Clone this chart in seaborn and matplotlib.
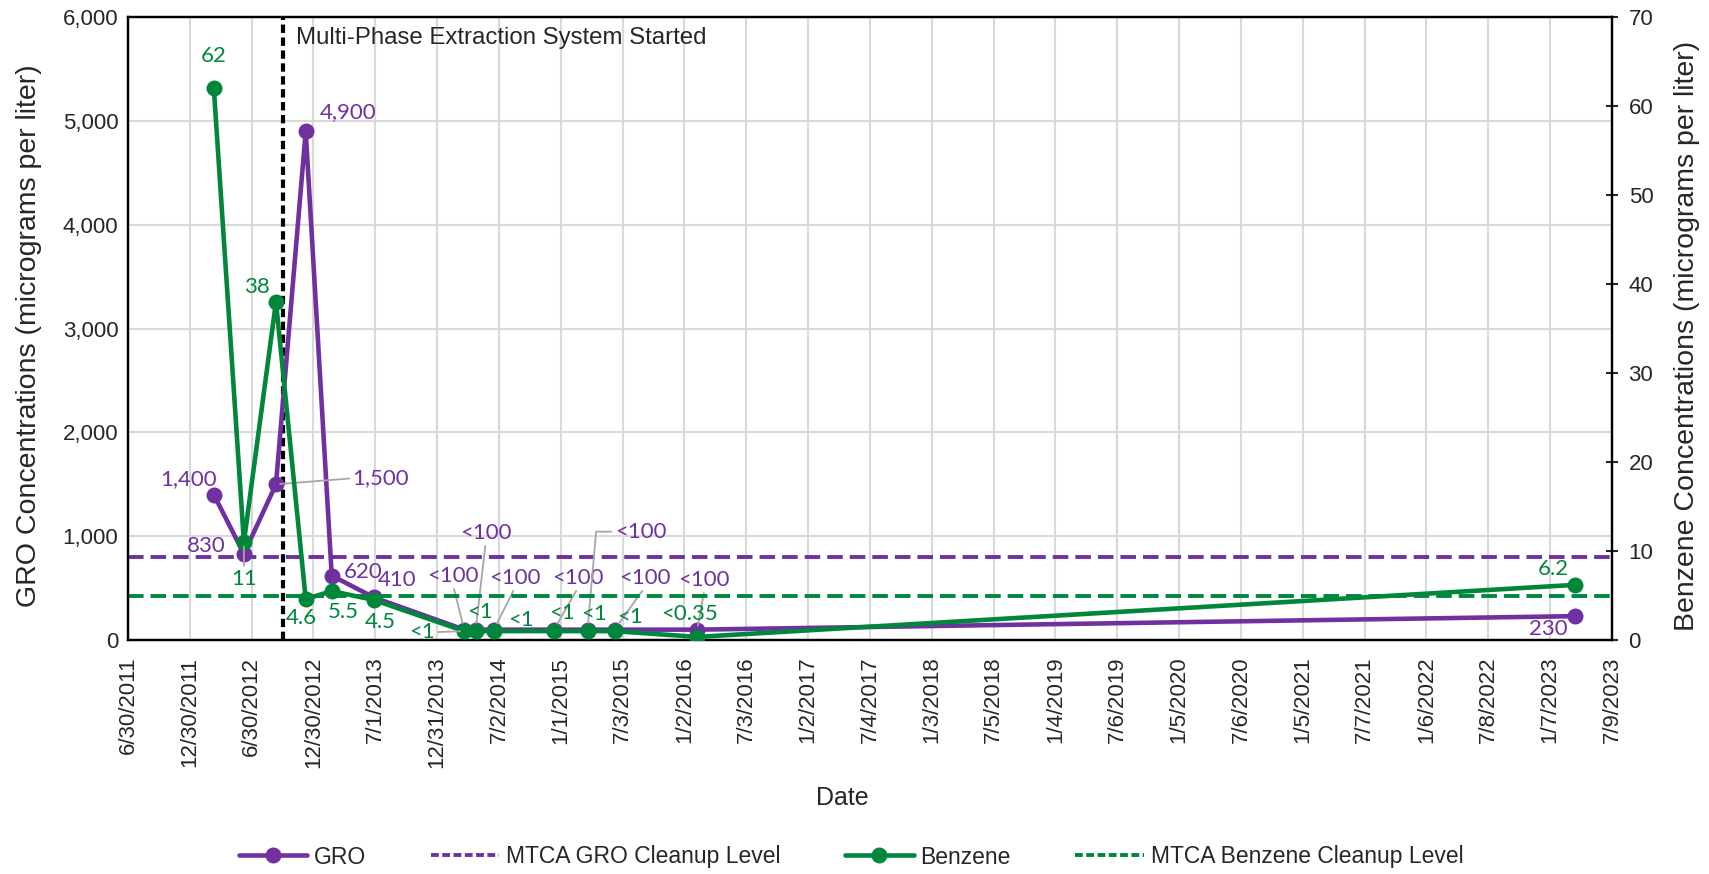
import pandas as pd
import matplotlib
matplotlib.use('Agg')
import matplotlib.pyplot as plt
import matplotlib.dates as mdates
from matplotlib.lines import Line2D
import seaborn as sns

# sampling data
sample_dates = ['2012-03-10', '2012-06-07', '2012-09-10', '2012-12-07', '2013-02-22',
                '2013-06-27', '2014-03-21', '2014-04-24', '2014-06-17', '2014-12-12',
                '2015-03-21', '2015-06-09', '2016-02-09', '2023-03-22']
gro = [1400, 830, 1500, 4900, 620, 410, 100, 100, 100, 100, 100, 100, 100, 230]
gro_labels = ['1,400', '830', '1,500', '4,900', '620', '410', '<100', '<100', '<100',
              '<100', '<100', '<100', '<100', '230']
benzene = [62, 11, 38, 4.6, 5.5, 4.5, 1, 1, 1, 1, 1, 1, 0.35, 6.2]
benzene_labels = ['62', '11', '38', '4.6', '5.5', '4.5', '<1', '<1', '<1', '<1', '<1', '<1',
                  '<0.35', '6.2']
gro_cleanup = 800
benzene_cleanup = 5
mpe_start = '2012-10-01'
x_start, x_end = '2011-06-30', '2023-07-09'

purple = '#7030A0'
green = '#00873C'
grey = '#A6A6A6'

df = pd.DataFrame({'date': pd.to_datetime(sample_dates), 'gro': gro, 'benzene': benzene})

sns.set_style('white')
plt.rcParams['font.family'] = ['Liberation Sans', 'DejaVu Sans']

fig = plt.figure(figsize=(17.09, 8.74), dpi=100)
ax = fig.add_axes([0.0749, 0.2677, 0.8683, 0.7128])
ax2 = ax.twinx()

# x axis: excel style, major unit 183 days
ticks = pd.date_range(x_start, periods=25, freq='183D')
ax.set_xlim(mdates.date2num(pd.Timestamp(x_start)), mdates.date2num(pd.Timestamp(x_end)))
ax.set_xticks(mdates.date2num(ticks))
ax.set_xticklabels([f'{t.month}/{t.day}/{t.year}' for t in ticks], rotation=90, fontsize=16)
ax.set_ylim(0, 6000)
ax.set_yticks(range(0, 6001, 1000))
ax.set_yticklabels([f'{v:,}' for v in range(0, 6001, 1000)], fontsize=16)
ax2.set_ylim(0, 70)
ax2.set_yticks(range(0, 71, 10))
ax2.set_yticklabels([str(v) for v in range(0, 71, 10)], fontsize=16)

ax.grid(True, color='#D9D9D9', lw=1.5)
ax.set_axisbelow(True)
ax.tick_params(axis='x', length=0, pad=12)
ax.tick_params(axis='y', length=0, pad=7)
ax2.tick_params(axis='y', direction='inout', length=8, width=1.5, pad=8)
for a in (ax, ax2):
    for s in a.spines.values():
        s.set_color('black')
        s.set_linewidth(1.6)

# cleanup levels and MPE start line
ax.axhline(gro_cleanup, color=purple, lw=2.8, ls=(0, (4, 1.8)), zorder=2)
ax2.axhline(benzene_cleanup, color=green, lw=2.8, ls=(0, (4, 1.8)), zorder=2)
mpe_x = mdates.date2num(pd.Timestamp(mpe_start))
ax.axvline(mpe_x, color='black', lw=3, ls=(0, (2, 1.1)), zorder=3)
ax.annotate('Multi-Phase Extraction System Started', xy=(mpe_x, 1), xycoords=('data', 'axes fraction'),
            xytext=(13, -21), textcoords='offset pixels', ha='left', va='center', fontsize=17.3)

sns.lineplot(data=df, x='date', y='gro', ax=ax, color=purple, lw=3.3, marker='o',
             markersize=11.5, markeredgewidth=0, legend=False, zorder=4)
sns.lineplot(data=df, x='date', y='benzene', ax=ax2, color=green, lw=3.3, marker='o',
             markersize=11.5, markeredgewidth=0, legend=False, zorder=4)
ax.set_xlim(mdates.date2num(pd.Timestamp(x_start)), mdates.date2num(pd.Timestamp(x_end)))

# label offsets (pixels) and leader lines
gro_off = [(-25, 16), (-38, 8), (105, 6), (42, 19), (31, 4), (23, 17), (-11, 54), (10, 97),
           (21, 52), (24, 52), (53, 98), (30, 52), (7, 50), (-27, -13)]
bot = dict(relpos=(0.5, 0))
gro_lead = [None, None, dict(relpos=(0, 0.5)), None, None, None, bot, bot, bot, bot,
            dict(relpos=(0, 0.5), connectionstyle='angle,angleA=0,angleB=85,rad=0'),
            bot, bot, None]
benz_off = [(0, 32), (0, -37), (-19, 15), (-4, -19), (12, -21), (6, -22), (-42, -1), (4, 19),
            (27, 11), (8, 18), (7, 17), (16, 14), (-8, 23), (-22, 16)]
benz_lead = [None, dict(relpos=(0.5, 1)), None, None, None, None, dict(relpos=(1, 0.5)),
             None, None, None, None, None, None, None]


def put_labels(axis, values, labels, offsets, leads, color):
    for d, v, lab, off, lead in zip(df['date'], values, labels, offsets, leads):
        arrow = None
        if lead is not None:
            arrow = dict(arrowstyle='-', color=grey, lw=1.3, shrinkA=0, shrinkB=3)
            arrow.update(lead)
        axis.annotate(lab, xy=(mdates.date2num(d), v), xytext=off, textcoords='offset pixels',
                      ha='center', va='center', color=color, fontsize=16,
                      family=['Lato', 'DejaVu Sans'], arrowprops=arrow, zorder=6)


put_labels(ax, gro, gro_labels, gro_off, gro_lead, purple)
put_labels(ax2, benzene, benzene_labels, benz_off, benz_lead, green)

ax.set_xlabel('Date', fontsize=18)
ax.xaxis.label.set_va('center')
ax.xaxis.set_label_coords((842 - 128) / 1484, (640 - 798) / 623)
ax.set_ylabel('GRO Concentrations (micrograms per liter)', fontsize=20.5)
ax.yaxis.label.set_va('center')
ax.yaxis.set_label_coords((29 - 128) / 1484, (640 - 336) / 623)
ax2.set_ylabel('Benzene Concentrations (micrograms per liter)', fontsize=20.5)
ax2.yaxis.label.set_va('center')
ax2.yaxis.set_label_coords((1687 - 128) / 1484, (640 - 336) / 623)

handles = [Line2D([], [], color=purple, lw=3.3, marker='o', markersize=11.5, markeredgewidth=0),
           Line2D([], [], color=purple, lw=2.8, ls=(0, (2, 0.9))),
           Line2D([], [], color=green, lw=3.3, marker='o', markersize=11.5, markeredgewidth=0),
           Line2D([], [], color=green, lw=2.8, ls=(0, (2, 0.9)))]
labels = ['GRO', 'MTCA GRO Cleanup Level', 'Benzene', 'MTCA Benzene Cleanup Level']
fig.legend(handles, labels, loc='center', bbox_to_anchor=(851 / 1709, 1 - 857 / 874), ncol=4,
           frameon=False, fontsize=16.5, handlelength=3.0, handletextpad=0.3, columnspacing=2.8)

fig.savefig('out.png', dpi=100)
